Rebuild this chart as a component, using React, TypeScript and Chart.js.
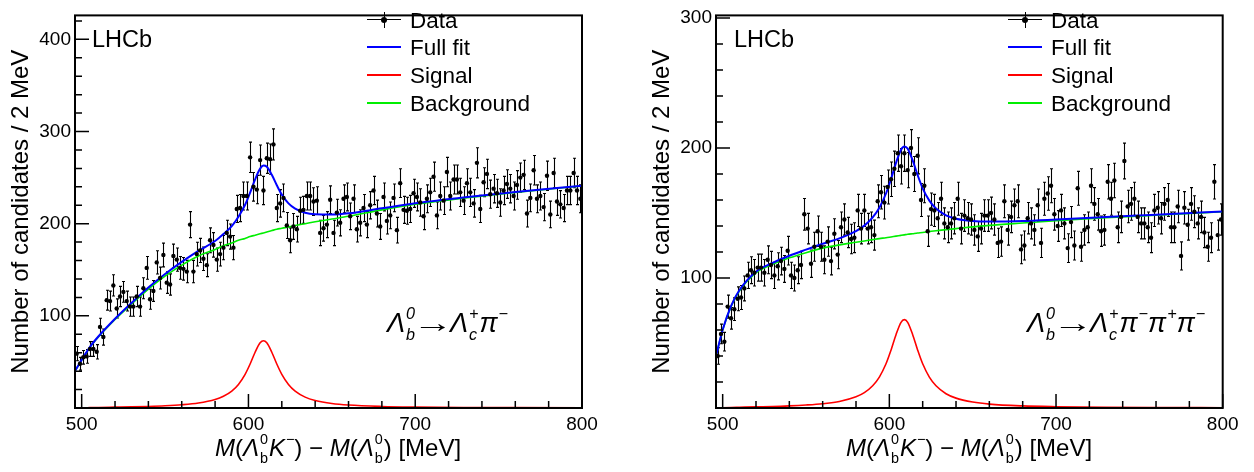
import React, { useEffect, useRef } from "react";
import { Chart, registerables } from "chart.js";

Chart.register(...registerables);

const FONT = '"Liberation Sans", Arial, Helvetica, sans-serif';

const BIN_LOW = 496;
const BIN_WIDTH = 2;
const X_MIN = 496;
const X_MAX = 800;

const xTickValues = [500, 600, 700, 800];
const leftYTicks = [100, 200, 300, 400];
const rightYTicks = [100, 200, 300];

// Lambda_b0 -> Lambda_c+ pi- sample, candidates per 2 MeV bin (496-800 MeV)
const leftCounts = [
  59, 48, 55, 56, 64, 64, 61, 88, 77, 117, 116, 133, 108, 121, 126, 116, 110, 110, 121, 110,
  130, 152, 118, 127, 158, 141, 166, 136, 134, 165, 161, 152, 151, 148, 199, 148, 167, 171, 162, 155,
  182, 177, 161, 167, 174, 190, 186, 174, 216, 217, 230, 230, 272, 240, 237, 269, 236, 271, 270, 286,
  217, 222, 228, 198, 182, 197, 194, 214, 215, 230, 230, 224, 225, 190, 195, 199, 226, 190, 212, 201,
  227, 229, 208, 227, 194, 201, 217, 199, 220, 236, 211, 197, 229, 203, 209, 228, 193, 244, 215, 214,
  216, 233, 229, 223, 208, 227, 234, 251, 209, 230, 225, 256, 230, 248, 248, 234, 225, 244, 234, 222,
  266, 216, 245, 254, 232, 238, 233, 223, 236, 243, 238, 230, 242, 250, 253, 211, 228, 258, 227, 230,
  218, 252, 210, 255, 224, 221, 217, 236, 236, 255, 236, 227,
];

// Lambda_b0 -> Lambda_c+ pi- pi+ pi- sample
const rightCounts = [
  40, 57, 51, 78, 69, 76, 84, 85, 92, 102, 106, 104, 108, 108, 104, 114, 110, 102, 109, 113,
  107, 121, 102, 100, 106, 110, 149, 138, 111, 124, 136, 124, 114, 128, 113, 134, 118, 139, 145, 135,
  130, 131, 152, 138, 152, 138, 139, 133, 159, 166, 158, 170, 176, 184, 196, 186, 196, 183, 200, 180,
  194, 160, 171, 136, 153, 152, 146, 161, 142, 139, 142, 146, 161, 138, 148, 146, 145, 137, 132, 138,
  148, 148, 150, 145, 127, 128, 159, 137, 147, 156, 159, 122, 125, 146, 142, 137, 156, 127, 161, 165,
  171, 149, 140, 152, 142, 123, 143, 125, 169, 124, 137, 139, 171, 157, 149, 136, 137, 174, 161, 175,
  139, 147, 190, 155, 157, 161, 147, 142, 142, 139, 131, 152, 154, 146, 157, 160, 139, 139, 155, 117,
  154, 141, 157, 151, 142, 147, 135, 124, 131, 174, 133, 145,
];

// fit curves sampled at these masses
const curveMass = [
  496, 500, 505, 510, 520, 530, 540, 550, 560, 570, 580, 585, 590, 594, 598, 601, 604, 607, 609, 611,
  614, 617, 620, 624, 628, 634, 640, 650, 660, 680, 700, 730, 760, 800,
];
const leftBackground = [
  40, 52, 66, 77, 96, 113, 129, 143, 155, 165, 172, 176, 179, 182, 184, 186, 187.5, 189, 190, 191,
  192.5, 194, 195, 196.5, 198, 200, 202, 205, 208, 215, 221, 228, 234, 241,
];
const leftSignal = [
  0, 0.2, 0.4, 0.6, 0.9, 1.2, 1.7, 2.4, 3.5, 5.4, 9.2, 12.7, 18.3, 25.5, 36.5, 47.7, 60.5, 70.7, 73, 70.7,
  60.5, 47.7, 36.5, 25.5, 18.3, 11.8, 8.2, 4.9, 3.2, 1.7, 1.05, 0.6, 0.4, 0.25,
];
const rightBackground = [
  40, 60, 78, 90, 104, 110.5, 115.5, 119.5, 123, 125.5, 127.5, 128.5, 129.5, 130.3, 131, 131.6, 132.2, 132.8, 133.2, 133.6,
  134.1, 134.6, 135, 135.7, 136.3, 137.2, 138, 139.3, 140.5, 142.3, 144, 146.3, 148.3, 151,
];
const rightSignal = [
  0, 0.2, 0.4, 0.55, 0.85, 1.1, 1.6, 2.3, 3.3, 5.0, 8.6, 11.8, 17.1, 23.8, 34, 44.5, 56.4, 65.9, 68, 65.9,
  56.4, 44.5, 34, 23.8, 17.1, 11, 7.6, 4.6, 3.0, 1.6, 1.0, 0.55, 0.36, 0.22,
];

const rootStyle = {
  id: "rootStyle",
  beforeDatasetsDraw(chart: any) {
    const ds = chart.data.datasets[0];
    const xs = chart.scales.x;
    const ys = chart.scales.y;
    const ctx = chart.ctx;
    const a = chart.chartArea;
    ctx.save();
    ctx.beginPath();
    ctx.rect(a.left, a.top, a.right - a.left, a.bottom - a.top);
    ctx.clip();
    ctx.strokeStyle = "#000";
    ctx.lineWidth = 1.1;
    for (const p of ds.data) {
      const e = Math.sqrt(p.y);
      const px = Math.round(xs.getPixelForValue(p.x)) + 0.5;
      const y1 = ys.getPixelForValue(p.y + e);
      const y2 = ys.getPixelForValue(p.y - e);
      ctx.beginPath();
      ctx.moveTo(px, y1);
      ctx.lineTo(px, y2);
      ctx.moveTo(px - 1.5, y1);
      ctx.lineTo(px + 1.5, y1);
      ctx.moveTo(px - 1.5, y2);
      ctx.lineTo(px + 1.5, y2);
      ctx.stroke();
    }
    ctx.restore();
  },
  afterDraw(chart: any) {
    const ctx = chart.ctx;
    const a = chart.chartArea;
    const xs = chart.scales.x;
    const ys = chart.scales.y;
    ctx.save();
    ctx.strokeStyle = "#000";
    ctx.lineWidth = 1.5;
    ctx.beginPath();
    for (let v = 0; v <= ys.max + 1e-6; v += 20) {
      const py = ys.getPixelForValue(v);
      const len = v % 100 === 0 ? 14 : 7;
      ctx.moveTo(a.left, py);
      ctx.lineTo(a.left + len, py);
    }
    for (let v = 500; v <= X_MAX + 1e-6; v += 20) {
      const px = xs.getPixelForValue(v);
      const len = v % 100 === 0 ? 14 : 7;
      ctx.moveTo(px, a.bottom);
      ctx.lineTo(px, a.bottom - len);
    }
    ctx.stroke();
    ctx.lineWidth = 2;
    ctx.strokeRect(a.left, a.top, a.right - a.left, a.bottom - a.top);
    ctx.restore();
  },
};

type PanelProps = {
  counts: number[];
  background: number[];
  signal: number[];
  yMax: number;
  yTicks: number[];
  left: number;
  width: number;
  axisWidth: number;
  padRight: number;
  titleOffset: number;
};

function Panel(p: PanelProps) {
  const ref = useRef<HTMLCanvasElement>(null);
  useEffect(() => {
    const dataPts = p.counts.map((c, i) => ({ x: BIN_LOW + BIN_WIDTH * (i + 0.5), y: c }));
    const bg = curveMass.map((m, i) => ({ x: m, y: p.background[i] }));
    const sig = curveMass.map((m, i) => ({ x: m, y: p.signal[i] }));
    const full = curveMass.map((m, i) => ({ x: m, y: p.background[i] + p.signal[i] }));
    const chart = new Chart(ref.current as HTMLCanvasElement, {
      type: "scatter",
      data: {
        datasets: [
          { label: "Data", data: dataPts, pointRadius: 2.2, pointBackgroundColor: "#000", pointBorderColor: "#000", pointBorderWidth: 0, showLine: false, order: 0 },
          { label: "Full fit", data: full, showLine: true, borderColor: "#0000ff", borderWidth: 2, pointRadius: 0, cubicInterpolationMode: "monotone", order: 1 },
          { label: "Signal", data: sig, showLine: true, borderColor: "#ff0000", borderWidth: 1.6, pointRadius: 0, cubicInterpolationMode: "monotone", order: 2 },
          { label: "Background", data: bg, showLine: true, borderColor: "#00ee00", borderWidth: 1.6, pointRadius: 0, cubicInterpolationMode: "monotone", order: 3 },
        ],
      } as any,
      options: {
        animation: false,
        responsive: false,
        maintainAspectRatio: false,
        events: [],
        layout: { padding: { left: 0, right: p.padRight, top: 8, bottom: 0 } },
        plugins: { legend: { display: false }, tooltip: { enabled: false } },
        scales: {
          x: {
            type: "linear",
            min: X_MIN,
            max: X_MAX,
            grid: { display: false, drawTicks: false },
            border: { display: false },
            ticks: { font: { family: FONT, size: 19 }, color: "#000", padding: 5, maxRotation: 0, autoSkip: false },
            afterBuildTicks: (s: any) => {
              s.ticks = xTickValues.map((v) => ({ value: v }));
            },
            afterFit: (s: any) => {
              s.height = 64;
            },
          },
          y: {
            type: "linear",
            min: 0,
            max: p.yMax,
            grid: { display: false, drawTicks: false },
            border: { display: false },
            ticks: { font: { family: FONT, size: 19 }, color: "#000", padding: 4, autoSkip: false },
            afterBuildTicks: (s: any) => {
              s.ticks = p.yTicks.map((v) => ({ value: v }));
            },
            afterFit: (s: any) => {
              s.width = p.axisWidth;
            },
            title: {
              display: true,
              text: "Number of candidates / 2 MeV",
              font: { family: FONT, size: 24 },
              color: "#000",
              padding: { top: p.titleOffset, bottom: 0 },
            },
          },
        },
      } as any,
      plugins: [rootStyle as any],
    });
    return () => chart.destroy();
  }, []);
  return (
    <canvas
      ref={ref}
      width={p.width}
      height={472}
      style={{ position: "absolute", left: p.left, top: 0, width: p.width, height: 472 }}
    />
  );
}

// text helpers: line-height 3*fs so baseline sits at top + 1.8465*fs
function TextAt(props: { x: number; baseline: number; fs: number; italic?: boolean; center?: boolean; children: any }) {
  const { x, baseline, fs } = props;
  return (
    <div
      style={{
        position: "absolute",
        left: x,
        top: baseline - 1.8465 * fs,
        fontFamily: FONT,
        fontSize: fs,
        lineHeight: `${3 * fs}px`,
        whiteSpace: "nowrap",
        color: "#000",
        fontStyle: props.italic ? "italic" : "normal",
        transform: props.center ? "translateX(-50%)" : undefined,
      }}
    >
      {props.children}
    </div>
  );
}

function SS(props: { sup: string; sub: string; fs: number }) {
  const { fs } = props;
  return (
    <span
      style={{
        display: "inline-flex",
        flexDirection: "column",
        fontSize: fs * 0.6,
        lineHeight: `${fs * 0.8}px`,
        verticalAlign: `${fs * 0.5}px`,
        marginLeft: 1,
        marginRight: 1,
      }}
    >
      <span>{props.sup}</span>
      <span>{props.sub}</span>
    </span>
  );
}

function Sup(props: { fs: number; children: any }) {
  return (
    <span style={{ fontSize: props.fs * 0.6, lineHeight: 1, verticalAlign: `${props.fs * 0.5}px`, marginLeft: 1 }}>
      {props.children}
    </span>
  );
}

function XTitle(props: { x: number }) {
  const fs = 24;
  return (
    <TextAt x={props.x} baseline={456} fs={fs} center>
      <i>M</i>(<i>Λ</i>
      <SS sup="0" sub="b" fs={fs} />
      <i>K</i>
      <Sup fs={fs}>−</Sup>) − <i>M</i>(<i>Λ</i>
      <SS sup="0" sub="b" fs={fs} />) [MeV]
    </TextAt>
  );
}

function Decay(props: { x: number; extra: boolean }) {
  const fs = 27;
  return (
    <TextAt x={props.x} baseline={333} fs={fs} italic>
      Λ<SS sup="0" sub="b" fs={fs} />
      <span
        style={{
          fontStyle: "normal",
          display: "inline-block",
          transform: "scaleX(1.5)",
          margin: "0 4px 0 3px",
        }}
      >
        →
      </span>
      Λ<SS sup="+" sub="c" fs={fs} />π<Sup fs={fs}>−</Sup>
      {props.extra ? (
        <>
          π<Sup fs={fs}>+</Sup>π<Sup fs={fs}>−</Sup>
        </>
      ) : null}
    </TextAt>
  );
}

const legendRows = [
  { label: "Data", kind: "data", color: "#000" },
  { label: "Full fit", kind: "line", color: "#0000ff" },
  { label: "Signal", kind: "line", color: "#ff0000" },
  { label: "Background", kind: "line", color: "#00ee00" },
];
const legendCentersY = [20, 47, 75, 103];

function Legend(props: { markerLeft: number; markerRight: number; textX: number }) {
  const fs = 22.5;
  const { markerLeft, markerRight, textX } = props;
  const mid = (markerLeft + markerRight) / 2;
  return (
    <>
      {legendRows.map((r, i) => {
        const cy = legendCentersY[i];
        return (
          <React.Fragment key={r.label}>
            <div
              style={{
                position: "absolute",
                left: markerLeft,
                top: cy - 1,
                width: markerRight - markerLeft,
                height: r.kind === "data" ? 1 : 2,
                background: r.color,
              }}
            />
            {r.kind === "data" ? (
              <>
                <div style={{ position: "absolute", left: mid - 0.5, top: cy - 8, width: 1, height: 16, background: "#000" }} />
                <div style={{ position: "absolute", left: mid - 3, top: cy - 3.5, width: 6, height: 6, borderRadius: 3, background: "#000" }} />
              </>
            ) : null}
            <TextAt x={textX} baseline={cy + 0.358 * fs} fs={fs}>
              {r.label}
            </TextAt>
          </React.Fragment>
        );
      })}
    </>
  );
}

export default function App() {
  return (
    <div style={{ position: "absolute", left: 0, top: 0, width: 1254, height: 472, background: "#fff", overflow: "hidden" }}>
      <Panel counts={leftCounts} background={leftBackground} signal={leftSignal} yMax={426} yTicks={leftYTicks} left={0} width={627} axisWidth={75} padRight={45} titleOffset={7} />
      <Panel counts={rightCounts} background={rightBackground} signal={rightSignal} yMax={302} yTicks={rightYTicks} left={627} width={627} axisWidth={89} padRight={31.3} titleOffset={21} />
      <TextAt x={92} baseline={47} fs={23.5}>LHCb</TextAt>
      <TextAt x={734} baseline={47} fs={23.5}>LHCb</TextAt>
      <Legend markerLeft={367} markerRight={401} textX={410} />
      <Legend markerLeft={1008} markerRight={1042} textX={1051} />
      <Decay x={387} extra={false} />
      <Decay x={1027} extra={true} />
      <XTitle x={338} />
      <XTitle x={969} />
    </div>
  );
}
